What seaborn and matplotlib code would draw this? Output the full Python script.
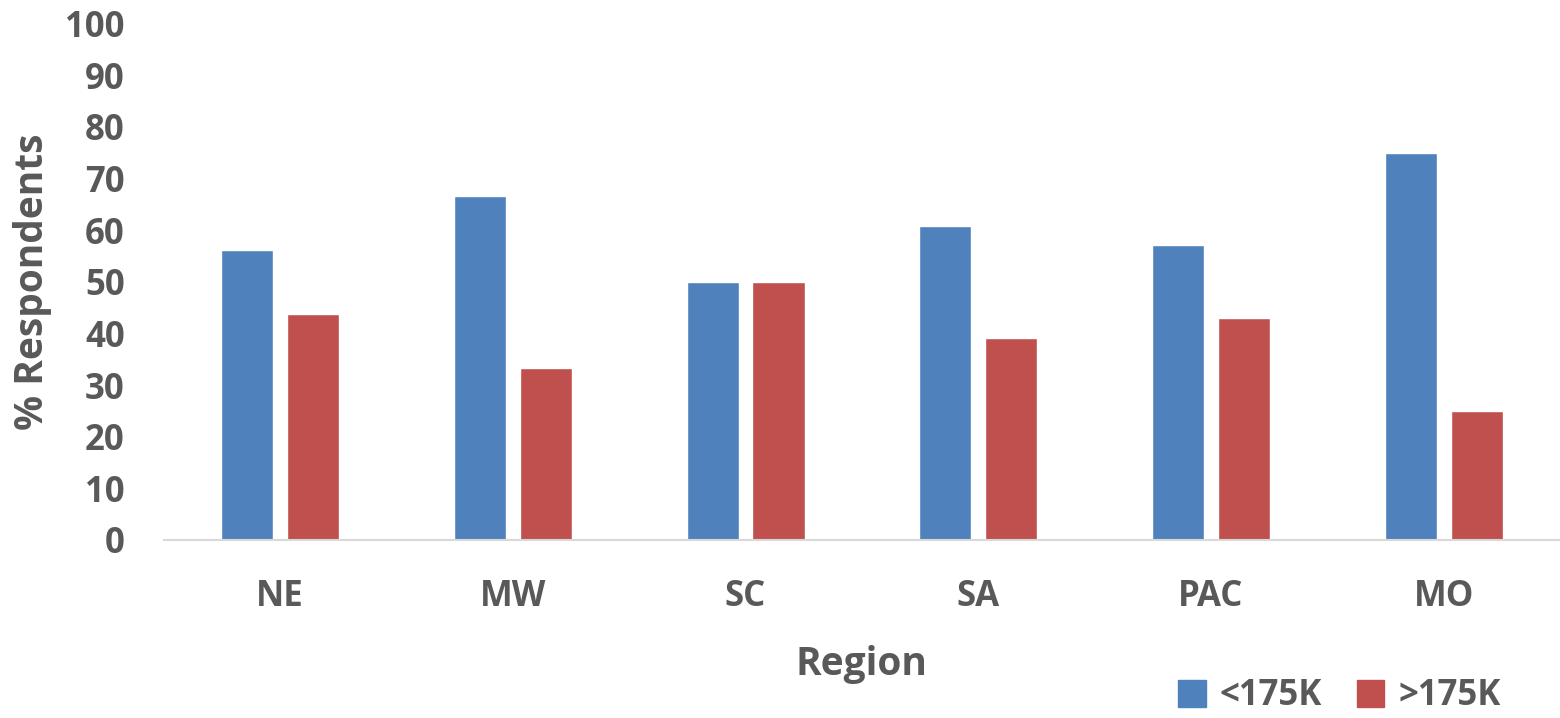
import pandas as pd
import seaborn as sns
import matplotlib.pyplot as plt

regions = ["NE", "MW", "SC", "SA", "PAC", "MO"]
below_175k = [56.25, 66.7, 50.0, 60.9, 57.1, 75.0]
above_175k = [43.75, 33.3, 50.0, 39.1, 42.9, 25.0]
groups = ["<175K", ">175K"]

df = pd.DataFrame({
    "Region": regions * 2,
    "Value": below_175k + above_175k,
    "Group": [groups[0]] * len(regions) + [groups[1]] * len(regions),
})

sns.set_style("white")
plt.rcParams["font.family"] = ["Open Sans", "DejaVu Sans"]
grey = "#595959"
colors = ["#4F81BD", "#C0504D"]

fig = plt.figure(figsize=(15.6, 7.18), dpi=100)
ax = fig.add_axes([0.105, 0.248, 0.895, 0.719])

sns.barplot(data=df, x="Region", y="Value", hue="Group", order=regions,
            hue_order=groups, palette=colors, saturation=1,
            width=0.567, gap=0.21, ax=ax, legend=True)

ax.set_ylim(0, 100)
ax.set_xlim(-0.5, 5.5)
ax.set_yticks(range(0, 101, 10))
ax.tick_params(axis="both", length=0, labelsize=25, labelcolor=grey)
ax.tick_params(axis="x", pad=28)
ax.tick_params(axis="y", pad=28)
for lab in ax.get_xticklabels() + ax.get_yticklabels():
    lab.set_fontweight("bold")

ax.set_xlabel("Region", fontsize=28, fontweight="bold", color=grey, labelpad=22)
ax.set_ylabel("% Respondents", fontsize=28, fontweight="bold", color=grey, labelpad=10)

for side in ["top", "right", "left"]:
    ax.spines[side].set_visible(False)
ax.spines["bottom"].set_color("#D9D9D9")
ax.spines["bottom"].set_linewidth(1.5)

ax.legend_.remove()
handles = [plt.Rectangle((0, 0), 1, 1, color=c) for c in colors]
leg = fig.legend(handles, groups, loc="center right", bbox_to_anchor=(0.982, 0.03),
                 ncol=2, frameon=False, handlelength=0.8, handleheight=0.8,
                 columnspacing=1.0, handletextpad=0.4,
                 prop={"size": 25, "weight": "bold"})
for t in leg.get_texts():
    t.set_color(grey)

fig.savefig("out.png", dpi=100)
